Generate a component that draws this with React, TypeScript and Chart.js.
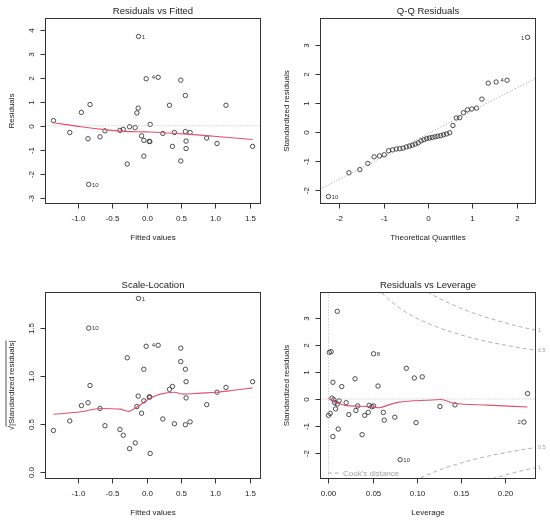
import React, { useEffect, useRef } from "react";
import { Chart, registerables } from "chart.js";

Chart.register(...registerables);

const FONT = '"Liberation Sans", Arial, Helvetica, sans-serif';

// ---------------- Residuals vs Fitted / Scale-Location (shared fitted values) ----------------
const fittedValues = [
  -1.351, -1.114, -0.945, -0.82, -0.849, -0.839, -0.675, -0.603, -0.386, -0.338,
  -0.28, -0.246, -0.164, -0.14, -0.121, -0.116, -0.072, -0.039, -0.039, -0.005,
  0.039, 0.048, 0.053, 0.169, 0.236, 0.333, 0.376, 0.405, 0.497, 0.497,
  0.564, 0.564, 0.574, 0.574, 0.632, 0.873, 1.023, 1.153, 1.539,
];
const residuals = [
  0.22, -0.28, 0.56, 0.89, -0.54, -2.45, -0.46, -0.21, -0.19, -0.15,
  -1.6, -0.04, -0.07, 0.54, 0.74, 3.74, -0.42, -0.61, -1.27, 1.97,
  -0.65, -0.66, 0.06, 2.03, -0.32, 0.86, -0.86, -0.28, 1.91, -1.47,
  1.27, -0.24, -0.64, -0.95, -0.28, -0.51, -0.74, 0.86, -0.86,
];
const residSmoothX = [-1.351, -0.95, -0.57, -0.376, -0.135, 0.06, 0.3, 0.64, 0.87, 1.15, 1.539];
const residSmoothY = [0.13, -0.04, -0.17, -0.22, -0.25, -0.26, -0.3, -0.36, -0.41, -0.48, -0.57];
const residLabelIdx = [15, 23, 5];
const residLabelText = ["1", "4", "10"];
const fittedTicks = [-1, -0.5, 0, 0.5, 1, 1.5];
const fittedTickLabels = ["-1.0", "-0.5", "0.0", "0.5", "1.0", "1.5"];
const residTicks = [-3, -2, -1, 0, 1, 2, 3, 4];
const residTickLabels = ["-3", "-2", "-1", "0", "1", "2", "3", "4"];

const sqrtStdResid = [
  0.43, 0.53, 0.69, 0.9, 0.72, 1.5, 0.66, 0.48, 0.44, 0.38,
  1.19, 0.24, 0.3, 0.68, 0.79, 1.81, 0.61, 0.74, 1.07, 1.31,
  0.78, 0.78, 0.19, 1.32, 0.55, 0.86, 0.89, 0.5, 1.29, 1.15,
  1.07, 0.49, 0.77, 0.94, 0.52, 0.7, 0.83, 0.88, 0.94,
];
const scaleSmoothX = [-1.351, -0.95, -0.67, -0.38, -0.26, -0.13, 0.06, 0.2, 0.4, 0.54, 0.78, 1.02, 1.26, 1.539];
const scaleSmoothY = [0.6, 0.625, 0.66, 0.653, 0.63, 0.68, 0.77, 0.81, 0.83, 0.81, 0.82, 0.83, 0.85, 0.875];
const scaleLabelIdx = [15, 23, 5];
const scaleLabelText = ["1", "4", "10"];
const scaleTicks = [0, 0.5, 1, 1.5];
const scaleTickLabels = ["0.0", "0.5", "1.0", "1.5"];

// ---------------- Q-Q Residuals ----------------
const qqTheoretical = [
  -2.241, -1.78, -1.534, -1.356, -1.213, -1.092, -0.984, -0.887, -0.798, -0.714,
  -0.636, -0.561, -0.489, -0.419, -0.352, -0.286, -0.221, -0.157, -0.094, -0.031,
  0.031, 0.094, 0.157, 0.221, 0.286, 0.352, 0.419, 0.489, 0.561, 0.636,
  0.714, 0.798, 0.887, 0.984, 1.092, 1.213, 1.356, 1.534, 1.78, 2.241,
];
const qqSample = [
  -2.24, -1.42, -1.31, -1.1, -0.87, -0.84, -0.8, -0.66, -0.63, -0.6,
  -0.59, -0.57, -0.53, -0.5, -0.47, -0.43, -0.39, -0.32, -0.28, -0.24,
  -0.22, -0.2, -0.18, -0.16, -0.14, -0.11, -0.08, -0.04, 0.21, 0.47,
  0.48, 0.65, 0.75, 0.78, 0.81, 1.12, 1.67, 1.71, 1.77, 3.25,
];
const qqLineX = [-2.42, 2.42];
const qqLineY = [-1.98, 1.84];
const qqLabelIdx = [39, 38, 0];
const qqLabelText = ["1", "4", "10"];
const qqXTicks = [-2, -1, 0, 1, 2];
const qqXTickLabels = ["-2", "-1", "0", "1", "2"];
const qqYTicks = [-2, -1, 0, 1, 2, 3];
const qqYTickLabels = ["-2", "-1", "0", "1", "2", "3"];

// ---------------- Residuals vs Leverage ----------------
const leverage = [
  0.0, 0.002, 0.001, 0.003, 0.005, 0.005, 0.004, 0.006, 0.007, 0.008,
  0.01, 0.01, 0.011, 0.012, 0.015, 0.02, 0.023, 0.03, 0.031, 0.033,
  0.038, 0.041, 0.045, 0.046, 0.049, 0.051, 0.051, 0.056, 0.062, 0.063,
  0.075, 0.081, 0.088, 0.097, 0.099, 0.106, 0.126, 0.143, 0.221, 0.225,
];
const levStdResid = [
  -0.61, -0.54, 1.73, 1.76, 0.62, -1.4, 0.03, -0.03, -0.14, -0.37,
  3.26, -0.19, -1.12, -0.07, 0.46, -0.14, -0.58, 0.75, -0.43, -0.26,
  -1.33, -0.61, -0.5, -0.24, -0.29, -0.26, 1.68, 0.48, -0.5, -0.79,
  -0.68, -2.26, 1.14, 0.78, -0.88, 0.82, -0.28, -0.22, -0.86, 0.2,
];
const levSmoothX = [0.0, 0.008, 0.02, 0.035, 0.05, 0.057, 0.068, 0.08, 0.095, 0.11, 0.127, 0.142, 0.18, 0.225];
const levSmoothY = [0.02, -0.12, -0.25, -0.27, -0.3, -0.33, -0.22, -0.12, -0.07, -0.05, -0.02, -0.16, -0.23, -0.3];
const levLabelIdx = [26, 31, 38];
const levLabelText = ["8", "10", "2"];
const levXTicks = [0, 0.05, 0.1, 0.15, 0.2];
const levXTickLabels = ["0.00", "0.05", "0.10", "0.15", "0.20"];
const levYTicks = [-2, -1, 0, 1, 2, 3];
const levYTickLabels = ["-2", "-1", "0", "1", "2", "3"];

const cookHalfH = [0.055, 0.06, 0.07, 0.08, 0.09, 0.1, 0.12, 0.14, 0.16, 0.18, 0.2, 0.22, 0.234];
const cookHalfR = [4.15, 3.96, 3.65, 3.39, 3.18, 3.0, 2.71, 2.48, 2.29, 2.13, 2.0, 1.88, 1.81];
const cookOneH = [0.105, 0.11, 0.12, 0.14, 0.16, 0.18, 0.2, 0.22, 0.234];
const cookOneR = [4.13, 4.02, 3.83, 3.51, 3.24, 3.02, 2.83, 2.66, 2.56];
const cookHalfNegH = [0.09, 0.1, 0.12, 0.14, 0.16, 0.18, 0.2, 0.22, 0.234];
const cookHalfNegR = [-3.18, -3.0, -2.71, -2.48, -2.29, -2.13, -2.0, -1.88, -1.81];
const cookOneNegH = [0.17, 0.18, 0.2, 0.22, 0.234];
const cookOneNegR = [-3.12, -3.02, -2.83, -2.66, -2.56];
const cookLevelY = [2.56, 1.81, -1.81, -2.56];
const cookLevelText = ["1", "0.5", "0.5", "1"];

// ---------------- helpers ----------------
const zip = (xs: number[], ys: number[]) => xs.map((x, i) => ({ x, y: ys[i] }));

const pointsDs = (xs: number[], ys: number[]) => ({
  data: zip(xs, ys),
  showLine: false,
  pointRadius: 2.2,
  pointBorderWidth: 0.85,
  pointBorderColor: "#2e2e2e",
  pointBackgroundColor: "rgba(0,0,0,0)",
});
const smoothDs = (xs: number[], ys: number[]) => ({
  data: zip(xs, ys),
  showLine: true,
  pointRadius: 0,
  borderColor: "#DF536B",
  borderWidth: 1.1,
  cubicInterpolationMode: "monotone",
  fill: false,
});
const refDs = (xs: number[], ys: number[], dash: number[], color: string) => ({
  data: zip(xs, ys),
  showLine: true,
  pointRadius: 0,
  borderColor: color,
  borderWidth: 1,
  borderDash: dash,
  cubicInterpolationMode: "monotone",
  fill: false,
});

const labelsFor = (xs: number[], ys: number[], idx: number[], text: string[]) => {
  const mid = (Math.min(...xs) + Math.max(...xs)) / 2;
  return idx.map((k, i) => ({ x: xs[k], y: ys[k], text: text[i], side: xs[k] > mid ? "left" : "right" }));
};

type Spec = {
  left: number;
  top: number;
  pad: { left: number; top: number; right: number; bottom: number };
  xMin: number; xMax: number; yMin: number; yMax: number;
  xTicks: number[]; xTickLabels: string[]; yTicks: number[]; yTickLabels: string[];
  title: string; xTitle: string; yTitle: string; sqrtTitle?: boolean;
  datasets: any[];
  pointLabels: { x: number; y: number; text: string; side: string }[];
  extra?: (ctx: CanvasRenderingContext2D, chart: any) => void;
};

const topPad = { left: 45.5, top: 18.5, right: 14.5, bottom: 58.5 };
const botPad = { left: 45.5, top: 30.5, right: 14.5, bottom: 45.5 };

const panels: Spec[] = [
  {
    left: 0, top: 0, pad: topPad,
    xMin: -1.466, xMax: 1.654, yMin: -3.25, yMax: 4.49,
    xTicks: fittedTicks, xTickLabels: fittedTickLabels, yTicks: residTicks, yTickLabels: residTickLabels,
    title: "Residuals vs Fitted", xTitle: "Fitted values", yTitle: "Residuals",
    datasets: [
      smoothDs(residSmoothX, residSmoothY),
      refDs([-1.466, 1.654], [0, 0], [1, 2], "#b5b5b5"),
      pointsDs(fittedValues, residuals),
    ],
    pointLabels: labelsFor(fittedValues, residuals, residLabelIdx, residLabelText),
  },
  {
    left: 275, top: 0, pad: topPad,
    xMin: -2.42, xMax: 2.42, yMin: -2.48, yMax: 3.9,
    xTicks: qqXTicks, xTickLabels: qqXTickLabels, yTicks: qqYTicks, yTickLabels: qqYTickLabels,
    title: "Q-Q Residuals", xTitle: "Theoretical Quantiles", yTitle: "Standardized residuals",
    datasets: [
      refDs(qqLineX, qqLineY, [1, 2], "#9a9a9a"),
      pointsDs(qqTheoretical, qqSample),
    ],
    pointLabels: labelsFor(qqTheoretical, qqSample, qqLabelIdx, qqLabelText),
  },
  {
    left: 0, top: 262, pad: botPad,
    xMin: -1.466, xMax: 1.654, yMin: -0.072, yMax: 1.872,
    xTicks: fittedTicks, xTickLabels: fittedTickLabels, yTicks: scaleTicks, yTickLabels: scaleTickLabels,
    title: "Scale-Location", xTitle: "Fitted values", yTitle: "|Standardized residuals|", sqrtTitle: true,
    datasets: [
      smoothDs(scaleSmoothX, scaleSmoothY),
      pointsDs(fittedValues, sqrtStdResid),
    ],
    pointLabels: labelsFor(fittedValues, sqrtStdResid, scaleLabelIdx, scaleLabelText),
  },
  {
    left: 275, top: 262, pad: botPad,
    xMin: -0.009, xMax: 0.234, yMin: -2.96, yMax: 3.96,
    xTicks: levXTicks, xTickLabels: levXTickLabels, yTicks: levYTicks, yTickLabels: levYTickLabels,
    title: "Residuals vs Leverage", xTitle: "Leverage", yTitle: "Standardized residuals",
    datasets: [
      smoothDs(levSmoothX, levSmoothY),
      refDs([-0.009, 0.234], [0, 0], [1, 2], "#b5b5b5"),
      refDs([0, 0], [-2.96, 3.96], [1, 2], "#b5b5b5"),
      refDs(cookHalfH, cookHalfR, [4, 3], "#b0b0b0"),
      refDs(cookOneH, cookOneR, [4, 3], "#b0b0b0"),
      refDs(cookHalfNegH, cookHalfNegR, [4, 3], "#b0b0b0"),
      refDs(cookOneNegH, cookOneNegR, [4, 3], "#b0b0b0"),
      pointsDs(leverage, levStdResid),
    ],
    pointLabels: labelsFor(leverage, levStdResid, levLabelIdx, levLabelText),
    extra: (ctx, chart) => {
      const { left, right, bottom } = chart.chartArea;
      const ys = chart.scales.y;
      ctx.save();
      ctx.strokeStyle = "#aaaaaa";
      ctx.lineWidth = 1;
      ctx.setLineDash([4, 3]);
      ctx.beginPath();
      ctx.moveTo(left + 7.5, bottom - 5.5);
      ctx.lineTo(left + 18, bottom - 5.5);
      ctx.stroke();
      ctx.setLineDash([]);
      ctx.fillStyle = "#a0a0a0";
      ctx.font = `8px ${FONT}`;
      ctx.textAlign = "left";
      ctx.textBaseline = "middle";
      ctx.fillText("Cook's distance", left + 22.5, bottom - 4.8);
      ctx.font = `5.5px ${FONT}`;
      cookLevelY.forEach((v, i) => {
        ctx.fillText(cookLevelText[i], right + 2.5, ys.getPixelForValue(v));
      });
      ctx.restore();
    },
  },
];

function makeDecor(spec: Spec) {
  return {
    id: "rdecor",
    afterDraw(chart: any) {
      const ctx: CanvasRenderingContext2D = chart.ctx;
      const { left, right, top, bottom } = chart.chartArea;
      const xs = chart.scales.x;
      const ys = chart.scales.y;
      ctx.save();
      ctx.strokeStyle = "#333";
      ctx.lineWidth = 1;
      ctx.strokeRect(left, top, right - left, bottom - top);
      ctx.fillStyle = "#222";
      ctx.font = `8px ${FONT}`;
      ctx.textAlign = "center";
      ctx.textBaseline = "middle";
      spec.xTicks.forEach((v, i) => {
        const px = Math.round(xs.getPixelForValue(v)) + 0.5;
        ctx.beginPath();
        ctx.moveTo(px, bottom);
        ctx.lineTo(px, bottom + 5);
        ctx.stroke();
        ctx.fillText(spec.xTickLabels[i], px, bottom + 15.3);
      });
      spec.yTicks.forEach((v, i) => {
        const py = Math.round(ys.getPixelForValue(v)) + 0.5;
        ctx.beginPath();
        ctx.moveTo(left, py);
        ctx.lineTo(left - 5, py);
        ctx.stroke();
        ctx.save();
        ctx.translate(left - 13.5, py);
        ctx.rotate(-Math.PI / 2);
        ctx.fillText(spec.yTickLabels[i], 0, 0);
        ctx.restore();
      });
      const cx = (left + right) / 2;
      const cy = (top + bottom) / 2;
      ctx.fillText(spec.xTitle, cx, bottom + 34.5);
      ctx.save();
      ctx.translate(left - 34, cy);
      ctx.rotate(-Math.PI / 2);
      if (spec.sqrtTitle) {
        const rad = "\u221A";
        const wb = ctx.measureText(spec.yTitle).width;
        const wr = ctx.measureText(rad).width;
        const total = wb + wr;
        ctx.textAlign = "left";
        ctx.fillText(rad, -total / 2, 0);
        ctx.fillText(spec.yTitle, -total / 2 + wr, 0);
        ctx.lineWidth = 0.8;
        ctx.strokeStyle = "#222";
        ctx.beginPath();
        ctx.moveTo(-total / 2 + wr - 0.5, -5.5);
        ctx.lineTo(total / 2, -5.5);
        ctx.stroke();
      } else {
        ctx.fillText(spec.yTitle, 0, 0);
      }
      ctx.restore();
      ctx.font = `9.5px ${FONT}`;
      ctx.fillText(spec.title, cx, top - 7.5);
      ctx.font = `6px ${FONT}`;
      ctx.fillStyle = "#333";
      spec.pointLabels.forEach((l) => {
        const px = xs.getPixelForValue(l.x);
        const py = ys.getPixelForValue(l.y);
        if (l.side === "left") {
          ctx.textAlign = "right";
          ctx.fillText(l.text, px - 3.2, py + 0.5);
        } else {
          ctx.textAlign = "left";
          ctx.fillText(l.text, px + 3.2, py + 0.5);
        }
      });
      ctx.restore();
      if (spec.extra) spec.extra(ctx, chart);
    },
  };
}

function Panel({ spec }: { spec: Spec }) {
  const ref = useRef<HTMLCanvasElement>(null);
  useEffect(() => {
    const chart = new Chart(ref.current as HTMLCanvasElement, {
      type: "scatter",
      data: { datasets: spec.datasets as any },
      options: {
        responsive: false,
        animation: false,
        events: [],
        layout: { padding: spec.pad, autoPadding: false },
        plugins: { legend: { display: false }, tooltip: { enabled: false }, title: { display: false } },
        scales: {
          x: { type: "linear", display: false, min: spec.xMin, max: spec.xMax },
          y: { type: "linear", display: false, min: spec.yMin, max: spec.yMax },
        },
      } as any,
      plugins: [makeDecor(spec)],
    });
    return () => chart.destroy();
  }, [spec]);
  return (
    <canvas
      ref={ref}
      width={275}
      height={262}
      style={{ position: "absolute", left: spec.left, top: spec.top, width: 275, height: 262, display: "block" }}
    />
  );
}

export default function App() {
  return (
    <div style={{ position: "fixed", left: 0, top: 0, width: 550, height: 524, background: "#fff" }}>
      {panels.map((p, i) => (
        <Panel key={i} spec={p} />
      ))}
    </div>
  );
}
